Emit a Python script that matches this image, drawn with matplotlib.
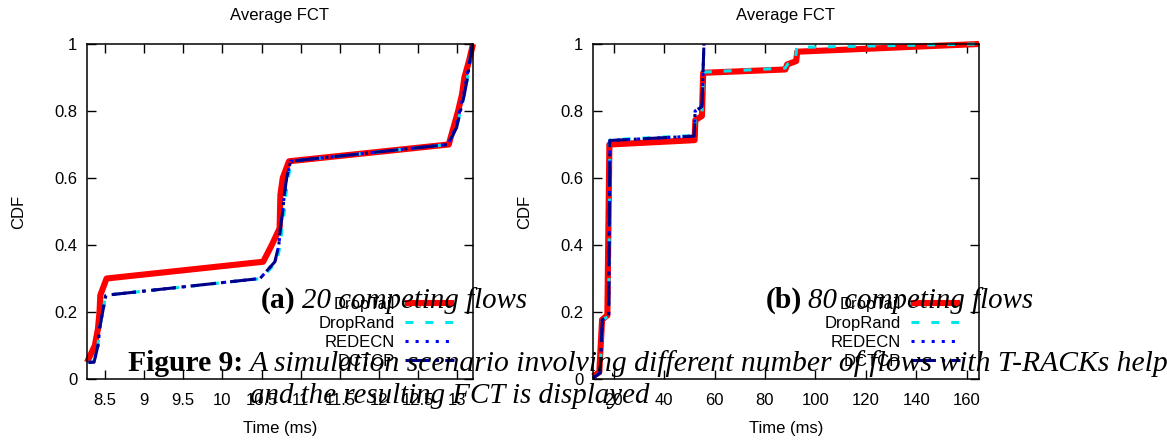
import matplotlib
matplotlib.use("Agg")
import matplotlib.pyplot as plt
from matplotlib.ticker import FormatStrFormatter

# --- (a) 20 competing flows: sorted average FCT (ms) vs CDF ---
a_droptail_x = [8.27, 8.37, 8.41, 8.43, 8.44, 8.52, 10.52, 10.63, 10.73, 10.735,
                10.74, 10.77, 10.85, 12.89, 12.95, 13.01, 13.06, 13.09, 13.15, 13.20]
a_droptail_y = [0.05, 0.10, 0.15, 0.20, 0.25, 0.30, 0.35, 0.40, 0.45, 0.50,
                0.55, 0.60, 0.65, 0.70, 0.75, 0.80, 0.85, 0.90, 0.95, 1.00]

a_droprand_x = [8.29, 8.35, 8.41, 8.43, 8.47, 8.51, 10.50, 10.69, 10.74, 10.76,
                10.79, 10.81, 10.84, 10.88, 12.88, 12.99, 13.04, 13.09, 13.13, 13.16, 13.19]
a_droprand_y = [0.05, 0.05, 0.10, 0.15, 0.20, 0.25, 0.30, 0.35, 0.40, 0.45,
                0.50, 0.55, 0.60, 0.65, 0.70, 0.75, 0.80, 0.85, 0.90, 0.95, 1.00]

a_redecn_x = [8.29, 8.36, 8.41, 8.43, 8.47, 8.51, 10.48, 10.67, 10.72, 10.74,
              10.77, 10.79, 10.82, 10.87, 12.88, 12.98, 13.03, 13.08, 13.12, 13.16, 13.19]
a_redecn_y = [0.05, 0.05, 0.10, 0.15, 0.20, 0.25, 0.30, 0.35, 0.40, 0.45,
              0.50, 0.55, 0.60, 0.65, 0.70, 0.75, 0.80, 0.85, 0.90, 0.95, 1.00]

a_dctcp_x = [8.29, 8.36, 8.41, 8.43, 8.47, 8.51, 10.48, 10.67, 10.72, 10.74,
             10.77, 10.79, 10.82, 10.87, 12.88, 12.99, 13.04, 13.09, 13.13, 13.16, 13.19]
a_dctcp_y = [0.05, 0.05, 0.10, 0.15, 0.20, 0.25, 0.30, 0.35, 0.40, 0.45,
             0.50, 0.55, 0.60, 0.65, 0.70, 0.75, 0.80, 0.85, 0.90, 0.95, 1.00]

# --- (b) 80 competing flows ---
b_droptail_x = [11.8, 14.3, 15.4, 17.5, 18.3, 52.1, 52.4, 55.0, 55.5, 88.1, 88.8, 92.4, 92.8, 164.9]
b_droptail_y = [0.008, 0.02, 0.177, 0.19, 0.70, 0.713, 0.773, 0.785, 0.914, 0.924, 0.939, 0.949, 0.977, 1.0]

b_droprand_x = [11.8, 14.6, 15.5, 18.0, 18.5, 51.8, 52.4, 55.0, 55.6, 88.0, 89.0, 92.0, 92.6, 164.9]
b_droprand_y = [0.004, 0.018, 0.177, 0.187, 0.714, 0.727, 0.775, 0.786, 0.916, 0.928, 0.940, 0.950, 0.990, 1.0]

b_redecn_x = [11.8, 14.6, 15.5, 18.0, 18.5, 51.9, 52.3, 55.0, 55.8]
b_redecn_y = [0.003, 0.018, 0.177, 0.187, 0.712, 0.725, 0.80, 0.813, 1.0]

b_dctcp_x = [11.8, 14.6, 15.5, 18.0, 18.5, 51.9, 52.3, 55.0, 55.8]
b_dctcp_y = [0.003, 0.018, 0.177, 0.187, 0.712, 0.725, 0.80, 0.813, 1.0]

a_xticks = [8.5, 9, 9.5, 10, 10.5, 11, 11.5, 12, 12.5, 13]
b_xticks = [20, 40, 60, 80, 100, 120, 140, 160]
yticks = [0, 0.2, 0.4, 0.6, 0.8, 1]

labels = ["DropTail", "DropRand", "REDECN", "DCTCP"]

W, H = 1167, 440
plt.rcParams["font.family"] = ["Liberation Sans", "DejaVu Sans"]
fs = 12

styles = [
    dict(color="#ff0000", lw=4.4, ls="-", solid_capstyle="butt"),
    dict(color="#00e5ee", lw=2.2, ls=(0, (2.6, 3.9))),
    dict(color="#0000ff", lw=2.2, ls=(0, (1.0, 2.3))),
    dict(color="#00008b", lw=2.2, ls=(0, (8, 2, 1, 2))),
]

fig = plt.figure(figsize=(W / 100, H / 100), dpi=100)
ax_a = fig.add_axes([87 / W, 1 - 379 / H, 386 / W, 335 / H])
ax_b = fig.add_axes([593 / W, 1 - 379 / H, 386 / W, 335 / H])

panels = [
    (ax_a, [(a_droptail_x, a_droptail_y), (a_droprand_x, a_droprand_y),
            (a_redecn_x, a_redecn_y), (a_dctcp_x, a_dctcp_y)], (8.27, 13.2), a_xticks),
    (ax_b, [(b_droptail_x, b_droptail_y), (b_droprand_x, b_droprand_y),
            (b_redecn_x, b_redecn_y), (b_dctcp_x, b_dctcp_y)], (11.8, 164.9), b_xticks),
]

for ax, series, xlim, xticks in panels:
    for (x, y), lab, st in zip(series, labels, styles):
        ax.plot(x, y, label=lab, clip_on=False, **st)
    ax.set_xlim(*xlim)
    ax.set_ylim(0, 1)
    ax.set_xticks(xticks)
    ax.set_yticks(yticks)
    ax.xaxis.set_major_formatter(FormatStrFormatter("%g"))
    ax.yaxis.set_major_formatter(FormatStrFormatter("%g"))
    ax.tick_params(direction="in", top=True, right=True, length=6.5, width=1.0,
                   labelsize=fs, colors="black")
    ax.tick_params(axis="x", pad=10)
    ax.tick_params(axis="y", pad=7)
    for sp in ax.spines.values():
        sp.set_linewidth(1.1)
    ax.text(0.5, (379 - 15.7) / 335, "Average FCT", transform=ax.transAxes,
            ha="center", va="center", fontsize=fs)
    ax.text(0.5, (379 - 428) / 335, "Time (ms)", transform=ax.transAxes,
            ha="center", va="center", fontsize=fs)
    ax.text(-0.177, 0.5, "CDF", transform=ax.transAxes, rotation=90,
            ha="center", va="center", fontsize=fs)
    ax.legend(loc="lower right", bbox_to_anchor=(0.95, 0.03), frameon=False,
              markerfirst=False, fontsize=fs, handlelength=2.9, handletextpad=0.6,
              labelspacing=0.24, borderpad=0, borderaxespad=0)

# caption lines from the paper
serif = ["Liberation Serif", "DejaVu Serif"]
cfs = 21.3


def caption(x, y, s, bold=False, size=cfs):
    fig.text(x / W, 1 - y / H, s, ha="left", va="baseline", fontsize=size,
             family=serif, fontweight="bold" if bold else "normal",
             fontstyle="normal" if bold else "italic", zorder=10)


caption(261, 308, "(a)", bold=True)
caption(302, 308, "20 competing flows", size=20.8)
caption(766, 308, "(b)", bold=True)
caption(808.5, 308, "80 competing flows", size=20.8)
caption(127.5, 371, "Figure 9:", bold=True)
caption(250, 371, "A simulation scenario involving different number of flows with T-RACKs help")
caption(250, 403, "and the resulting FCT is displayed", size=20.8)

fig.savefig("out.png", dpi=100)
